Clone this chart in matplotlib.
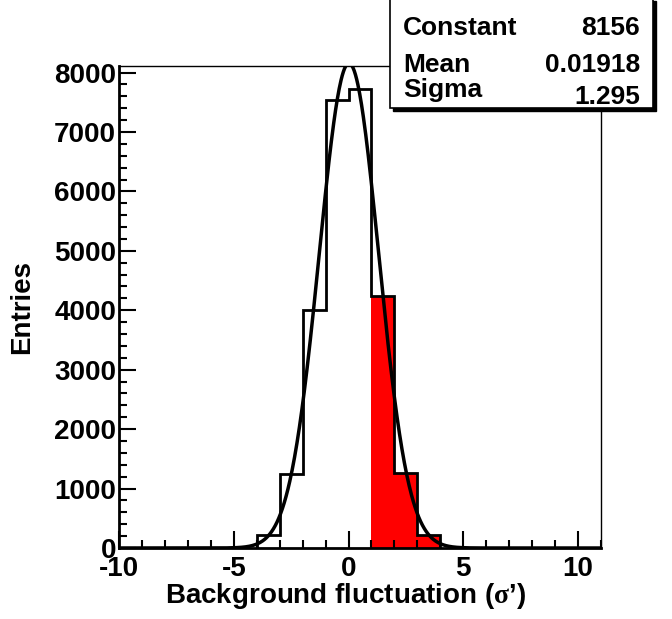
import numpy as np
import matplotlib
matplotlib.use("Agg")
import matplotlib.pyplot as plt
from matplotlib.patches import Rectangle
from matplotlib.ticker import MultipleLocator

# histograma (bins de largura 1)
bin_edges = [-4, -3, -2, -1, 0, 1, 2, 3, 4]
counts = [215, 1250, 4000, 7530, 7715, 4235, 1260, 215]
# bins pintados de vermelho (a partir de x = 1)
red_from = 1

# parametros do ajuste gaussiano
fit_names = ["Constant", "Mean", "Sigma"]
fit_labels = ["8156", "0.01918", "1.295"]
constant, mean, sigma = 8156, 0.01918, 1.295

plt.rcParams['font.family'] = ['Liberation Sans', 'DejaVu Sans']
plt.rcParams['font.weight'] = 'bold'
plt.rcParams['axes.unicode_minus'] = False
plt.rcParams['mathtext.fontset'] = 'custom'
plt.rcParams['mathtext.rm'] = 'Liberation Serif'

W, H = 672, 619
fig = plt.figure(figsize=(W/100, H/100), dpi=100)
ax = fig.add_axes([119/W, 1-548/H, (601-119)/W, (548-66)/H])

edges = np.array(bin_edges, dtype=float)
vals = np.array(counts, dtype=float)
red_vals = np.where(edges[:-1] >= red_from, vals, 0)

ax.stairs(red_vals, edges, fill=True, color='red', lw=0)
ax.stairs(vals, edges, color='black', lw=2)

x = np.linspace(-10, 11, 800)
y = constant*np.exp(-0.5*((x-mean)/sigma)**2)
ax.plot(x, y, color='black', lw=2.5)

ax.set_xlim(-10, 11)
ax.set_ylim(0, 8110)

ax.xaxis.set_major_locator(MultipleLocator(5))
ax.xaxis.set_minor_locator(MultipleLocator(1))
ax.yaxis.set_major_locator(MultipleLocator(1000))
ax.yaxis.set_minor_locator(MultipleLocator(200))
ax.tick_params(which='both', direction='in', top=False, right=False, width=1.5)
ax.tick_params(which='major', length=12, labelsize=20)
ax.tick_params(which='minor', length=6)
ax.tick_params(axis='x', pad=6)
ax.tick_params(axis='y', pad=2)
for lab in ax.get_xticklabels() + ax.get_yticklabels():
    lab.set_fontweight('bold')

ax.spines['left'].set_linewidth(2)
ax.spines['bottom'].set_linewidth(2)
ax.spines['top'].set_linewidth(1)
ax.spines['right'].set_linewidth(1)

fig.text(346/W, 1-596/H, r"Background fluctuation ($\mathrm{\sigma}$’)", ha='center', va='center',
         fontsize=20, fontweight='bold')
fig.text(22/W, 1-307/H, "Entries", ha='center', va='center', rotation=90,
         fontsize=20, fontweight='bold')

# caixa de estatisticas
bx0, bx1, by0, by1 = 390, 653, -2, 108
fig.patches.append(Rectangle(((bx0+3)/W, 1-(by1+3)/H), (bx1-bx0)/W, (by1-by0)/H,
                             transform=fig.transFigure, facecolor='black', edgecolor='black', zorder=5))
fig.patches.append(Rectangle((bx0/W, 1-by1/H), (bx1-bx0)/W, (by1-by0)/H,
                             transform=fig.transFigure, facecolor='white', edgecolor='black', lw=1.2, zorder=6))
baselines_l = [35, 72, 97]
baselines_r = [35, 72, 104]
for name, lab, yl, yr in zip(fit_names, fit_labels, baselines_l, baselines_r):
    fig.text(403/W, 1-yl/H, name, ha='left', va='baseline', fontsize=19, fontweight='bold', zorder=7)
    fig.text(640/W, 1-yr/H, lab, ha='right', va='baseline', fontsize=19, fontweight='bold', zorder=7)

fig.savefig("out.png", dpi=100)
